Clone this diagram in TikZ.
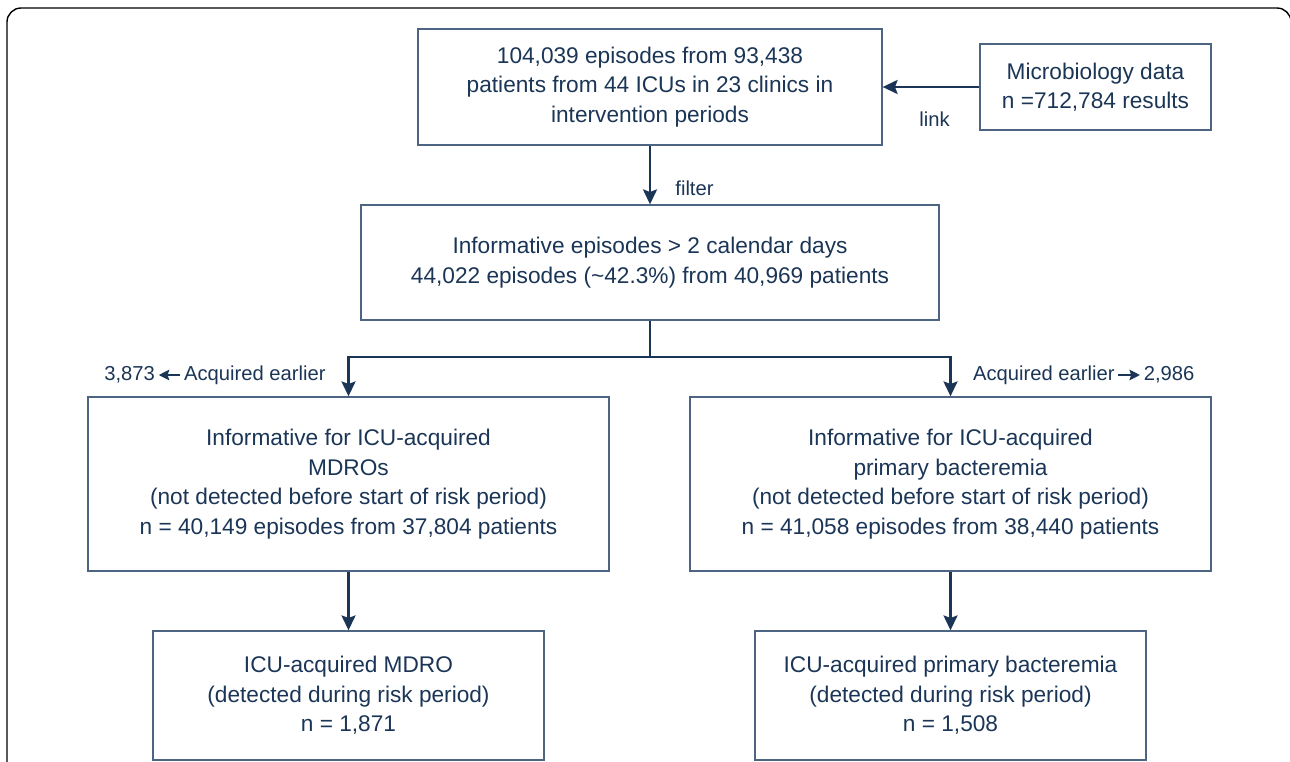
\documentclass[tikz,border=0pt]{standalone}
\usepackage{fontspec}
\setmainfont{Liberation Sans}
\usetikzlibrary{positioning,arrows.meta}
\definecolor{navy}{HTML}{1B3556}
\definecolor{boxline}{HTML}{4D6483}

\begin{document}
\begin{tikzpicture}[x=0.02cm,y=-0.02cm,
    box/.style={draw=boxline,line width=0.8pt,text=navy,align=center,inner sep=0pt,
                font=\fontsize{12.9}{16.8}\selectfont},
    flow/.style={navy,line width=1.3pt,-{Stealth[length=8.5pt,width=8pt,inset=1.5pt]}},
    note/.style={text=navy,inner sep=1pt,text height=1.5ex,text depth=0.3ex,
                 font=\fontsize{11.5}{14}\selectfont},
    tiny/.style={navy,line width=1pt,shorten <=1pt,shorten >=1pt,
                 -{Stealth[length=6pt,width=6pt,inset=1pt]}}]
      \path[use as bounding box,clip] (0,0) rectangle (1290,761);
      \draw[black,line width=0.8pt,rounded corners=8] (7,800) -- (7,8) -- (1291,8) -- (1291,800);% frame

      % boxes
      \node[box,minimum width=9.28cm,minimum height=2.32cm] (episodes) at (650,87)
            {104,039 episodes from 93,438\\patients from 44 ICUs in 23 clinics in\\intervention periods};
      \node[box,minimum width=4.62cm,minimum height=1.72cm] (micro) at (1095.5,87)
            {Microbiology data\\n =712,784 results};
      \node[box,minimum width=11.56cm,minimum height=2.3cm] (informative) at (650,262.5)
            {Informative episodes > 2 calendar days\\44,022 episodes (\textasciitilde42.3\%) from 40,969 patients};
      \node[box,minimum width=10.42cm,minimum height=3.48cm] (mdro) at (348.5,484)
            {Informative for ICU-acquired\\MDROs\\(not detected before start of risk period)\\n = 40,149 episodes from 37,804 patients};
      \node[box,minimum width=10.42cm,minimum height=3.48cm] (bact) at (950.5,484)
            {Informative for ICU-acquired\\primary bacteremia\\(not detected before start of risk period)\\n = 41,058 episodes from 38,440 patients};
      \node[box,minimum width=7.82cm,minimum height=2.58cm] (mdroevent) at (348.5,695.5)
            {ICU-acquired MDRO\\(detected during risk period)\\n = 1,871};
      \node[box,minimum width=7.82cm,minimum height=2.58cm] (bactevent) at (950.5,695.5)
            {ICU-acquired primary bacteremia\\(detected during risk period)\\n = 1,508};

      % connectors
      \coordinate (split) at (650,357);
      \draw[flow] (micro) -- node[note,below=0.45cm,xshift=2pt]{link} (episodes);
      \draw[flow] (episodes) -- node[note,pos=0.75,right=0.45cm]{filter} (informative);
      \draw[flow] (informative) -- (split) -| (mdro);
      \draw[flow] (split) -| (bact);
      \draw[flow] (mdro) -- (mdroevent);
      \draw[flow] (bact) -- (bactevent);

      % earlier acquisitions
      \node[note,anchor=west] (earlyleft) at (182,375) {Acquired earlier};
      \node[note,left=0.5cm of earlyleft] (lostleft) {3,873};
      \draw[tiny] (earlyleft) -- (lostleft);
      \node[note,anchor=west] (earlyright) at (971,375) {Acquired earlier};
      \node[note,right=0.5cm of earlyright] (lostright) {2,986};
      \draw[tiny] (earlyright) -- (lostright);
\end{tikzpicture}
\end{document}
